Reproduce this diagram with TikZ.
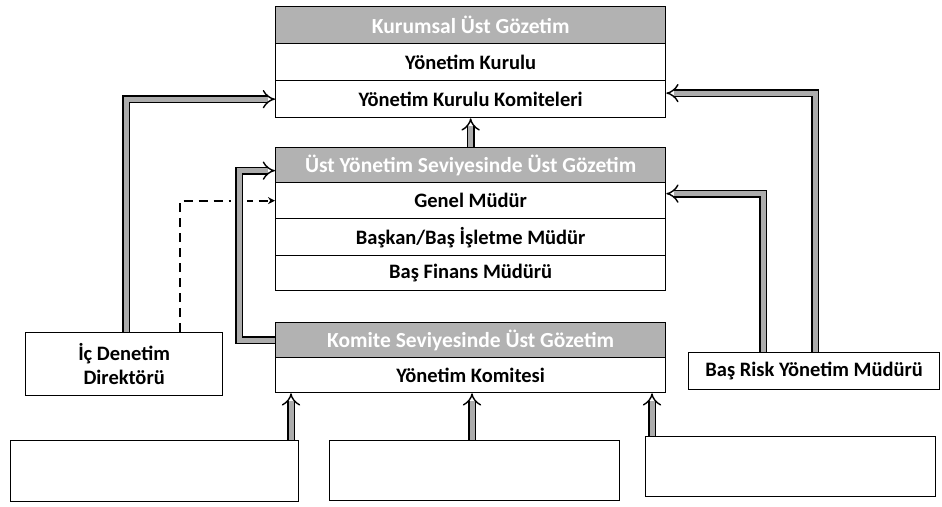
\documentclass[tikz,border=0pt]{standalone}
\usepackage{fontspec}
\setmainfont{Carlito}
\usetikzlibrary{arrows.meta}
\pgfdeclarelayer{bg}
\pgfsetlayers{bg,main}
\begin{document}
\begin{tikzpicture}[x=1pt,y=-1pt,
  box/.style={draw=black, line width=1.3pt, fill=white, inner sep=0pt, anchor=north west,
    font=\bfseries\fontsize{20.5}{24}\selectfont, align=center},
  hdr/.style={box, fill=gray!60, text=white, font=\bfseries\fontsize{21.5}{24}\selectfont},
  lowbox/.style={box, line width=1.1pt},
  conn/.style={draw=black, line width=1.4pt, double=gray!65, double distance=5pt, -{Implies[scale=1.15]}},
  thinarrow/.style={draw=black, line width=2pt, dash pattern=on 9pt off 6pt, -{Stealth[length=7pt,width=7pt]}},
]
\begin{pgfonlayer}{bg}
\useasboundingbox[fill=white] (0,0) rectangle (942,506);
\end{pgfonlayer}

% top group
\node[hdr, minimum width=390pt, minimum height=37pt] (T0) at (275,6) {Kurumsal Üst Gözetim};
\node[box, minimum width=390pt, minimum height=37pt] (T1) at (275,43) {Yönetim Kurulu};
\node[box, minimum width=390pt, minimum height=37pt] (T2) at (275,80) {Yönetim Kurulu Komiteleri};

% middle group
\node[hdr, minimum width=390pt, minimum height=35pt] (U0) at (275,147) {Üst Yönetim Seviyesinde Üst Gözetim};
\node[box, minimum width=390pt, minimum height=36pt] (U1) at (275,182) {Genel Müdür};
\node[box, minimum width=390pt, minimum height=37pt] (U2) at (275,218) {Başkan/Baş İşletme Müdür};
\node[box, minimum width=390pt, minimum height=35pt] (U3) at (275,255) {Baş Finans Müdürü};

% committee group
\node[hdr, minimum width=390pt, minimum height=35pt] (K0) at (275,322) {Komite Seviyesinde Üst Gözetim};
\node[box, minimum width=390pt, minimum height=35pt] (K1) at (275,357) {Yönetim Komitesi};

% side boxes
\node[box, minimum width=197pt, minimum height=63pt] (D) at (25,332) {İç Denetim\\Direktörü};
\node[box, minimum width=251pt, minimum height=37pt] (R) at (688,352) {Baş Risk Yönetim Müdürü};

% bottom boxes
\node[lowbox, minimum width=288pt, minimum height=61pt] (B1) at (10,440) {};
\node[lowbox, minimum width=290pt, minimum height=60pt] (B2) at (329,440) {};
\node[lowbox, minimum width=290pt, minimum height=60pt] (B3) at (645,436) {};

% helper coordinates
\coordinate (xa) at (126,0);
\coordinate (xb) at (180,0);
\coordinate (xc) at (239,0);
\coordinate (xd) at (763,0);
\coordinate (xe) at (815,0);
\coordinate (xf) at (291,0);
\coordinate (xg) at (472,0);
\coordinate (xh) at (652,0);
\coordinate (U0t) at ([yshift=-5.5pt]U0.west);
\coordinate (U1r) at ([yshift=7pt]U1.east);
\coordinate (T2r) at ([yshift=6pt]T2.east);

\begin{pgfonlayer}{bg}
  \draw[conn] (D.north -| xa) |- (T2.west);
  \draw[thinarrow] (D.north -| xb) |- (U1.west);
  \draw[conn, preaction={draw=white, line width=16pt, -}] (K0.west) -- (K0.west -| xc) -- (xc |- U0t) -- (U0t);
  \draw[conn] (R.north -| xd) |- (U1r);
  \draw[conn] (R.north -| xe) |- (T2r);
  \draw[conn] (U0.north) -- (T2.south);
  \draw[conn] (B1.north -| xf) -- (K1.south -| xf);
  \draw[conn] (B2.north -| xg) -- (K1.south -| xg);
  \draw[conn] (B3.north -| xh) -- (K1.south -| xh);
\end{pgfonlayer}
\end{tikzpicture}
\end{document}
